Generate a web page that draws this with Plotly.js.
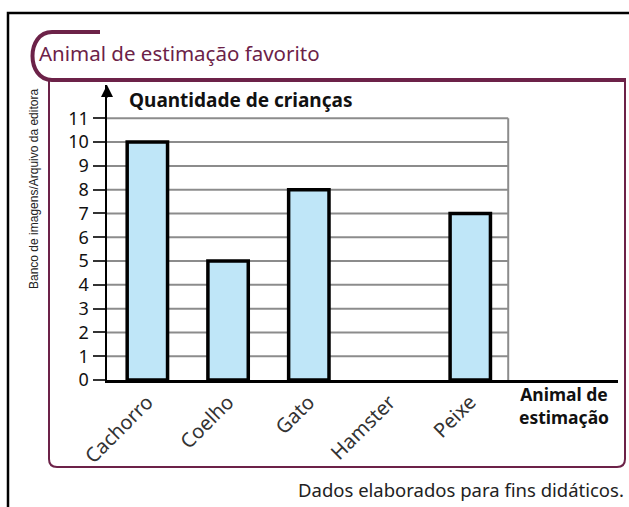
<!DOCTYPE html>
<html>
<head>
<meta charset="utf-8">
<script src="https://cdn.plot.ly/plotly-3.0.1.min.js"></script>
<style>html,body{margin:0;padding:0;background:#fff;}#chart{width:629px;height:507px;}</style>
</head>
<body>
<div id="chart"></div>
<script>
// ---- data ----
const categories = ["Cachorro", "Coelho", "Gato", "Hamster", "Peixe"];
const quantidade = [10, 5, 8, 0, 7];
const yTickValues = [0, 1, 2, 3, 4, 5, 6, 7, 8, 9, 10, 11];
const yTickLabels = ["0", "1", "2", "3", "4", "5", "6", "7", "8", "9", "10", "11"];
const chartTitle = "Animal de estimação favorito";
const yTitle = "Quantidade de crianças";
const xTitle = "Animal de<br>estimação";
const sourceNote = "Dados elaborados para fins didáticos.";
const creditNote = "Banco de imagens/Arquivo da editora";

// ---- layout geometry ----
const W = 629, H = 507;
const M = {l: 107, r: 11, t: 85, b: 127};
const PW = W - M.l - M.r, PH = H - M.t - M.b;
const X = px => (px - M.l) / PW;
const Y = py => (H - M.b - py) / PH;
const P = (px, py) => X(px).toFixed(5) + "," + Y(py).toFixed(5);

const maroon = "#6c2248";
const font = "Noto Sans, Open Sans, sans-serif";

const shapes = [];
// gridlines
yTickValues.filter(v => v > 0).forEach(v => {
  shapes.push({type: "line", xref: "x", yref: "y", x0: -0.5, x1: 4.47, y0: v, y1: v,
    line: {color: "#8c8c8c", width: 2}, layer: "below"});
});
shapes.push({type: "line", xref: "x", yref: "y", x0: 4.47, x1: 4.47, y0: 0, y1: 11,
  line: {color: "#8c8c8c", width: 2}, layer: "below"});
// outer black frame
shapes.push({type: "path", xref: "paper", yref: "paper",
  path: "M" + P(8, 520) + " L" + P(8, 13) + " L" + P(640, 13),
  line: {color: "#000", width: 2.5}});
// maroon box
shapes.push({type: "path", xref: "paper", yref: "paper",
  path: "M" + P(49, 80) + " L" + P(49, 459) + " Q" + P(49, 467) + " " + P(57, 467) +
        " L" + P(617, 467) + " Q" + P(625, 467) + " " + P(625, 459) + " L" + P(625, 80),
  line: {color: maroon, width: 2}});
// title bracket
shapes.push({type: "path", xref: "paper", yref: "paper",
  path: "M" + P(100, 32) + " L" + P(52, 32) + " C" + P(26, 32) + " " + P(26, 80) + " " + P(52, 80) +
        " L" + P(626, 80),
  line: {color: maroon, width: 4}});

const annotations = [
  {xref: "paper", yref: "paper", x: X(37), y: Y(53), xanchor: "left", yanchor: "middle",
   text: chartTitle, showarrow: false, font: {family: font, size: 20.5, color: maroon}},
  {xref: "paper", yref: "paper", x: X(127), y: Y(100), xanchor: "left", yanchor: "middle",
   text: "<b>" + yTitle + "</b>", showarrow: false, font: {family: font, size: 19, color: "#111"}},
  {xref: "paper", yref: "paper", x: X(564), y: Y(405), xanchor: "center", yanchor: "middle",
   text: "<b>" + xTitle + "</b>", showarrow: false, font: {family: font, size: 17.5, color: "#111"},
   align: "center"},
  {xref: "paper", yref: "paper", x: X(626), y: Y(489), xanchor: "right", yanchor: "middle",
   text: sourceNote, showarrow: false, font: {family: font, size: 18.5, color: "#222"}},
  {xref: "paper", yref: "paper", x: X(34), y: Y(189), xanchor: "center", yanchor: "middle",
   text: creditNote, textangle: -90, showarrow: false, font: {family: "Liberation Sans Narrow, Arial Narrow, sans-serif", size: 12, color: "#222"}},
  // arrow at top of y axis
  {xref: "paper", yref: "paper", x: 0, y: 1, ax: 0, ay: 14, axref: "pixel", ayref: "pixel",
   text: "", showarrow: true, arrowhead: 2, arrowsize: 1.2, arrowwidth: 2, arrowcolor: "#000"}
];

const trace = {
  type: "bar", x: categories, y: quantidade, width: 0.5,
  marker: {color: "#bfe6f8", line: {color: "#000", width: quantidade.map(v => v > 0 ? 3.5 : 0)}},
  hoverinfo: "skip"
};

const layout = {
  width: W, height: H,
  margin: M,
  paper_bgcolor: "#fff", plot_bgcolor: "rgba(0,0,0,0)",
  showlegend: false,
  font: {family: font},
  xaxis: {type: "category", range: [-0.5, 5.83], showgrid: false, zeroline: false,
    showline: true, linecolor: "#000", linewidth: 2.5, ticks: "", tickangle: -45,
    tickfont: {family: font, size: 20, color: "#333"}, fixedrange: true},
  yaxis: {range: [0, 12.4], tickmode: "array", tickvals: yTickValues, ticktext: yTickLabels,
    showgrid: false, zeroline: false, showline: true, linecolor: "#000", linewidth: 2.5,
    ticks: "outside", ticklen: 12, tickwidth: 2, tickcolor: "#333",
    tickfont: {family: font, size: 18, color: "#111"}, fixedrange: true},
  shapes: shapes,
  annotations: annotations
};

Plotly.newPlot("chart", [trace], layout, {displayModeBar: false, staticPlot: true});
</script>
</body>
</html>
